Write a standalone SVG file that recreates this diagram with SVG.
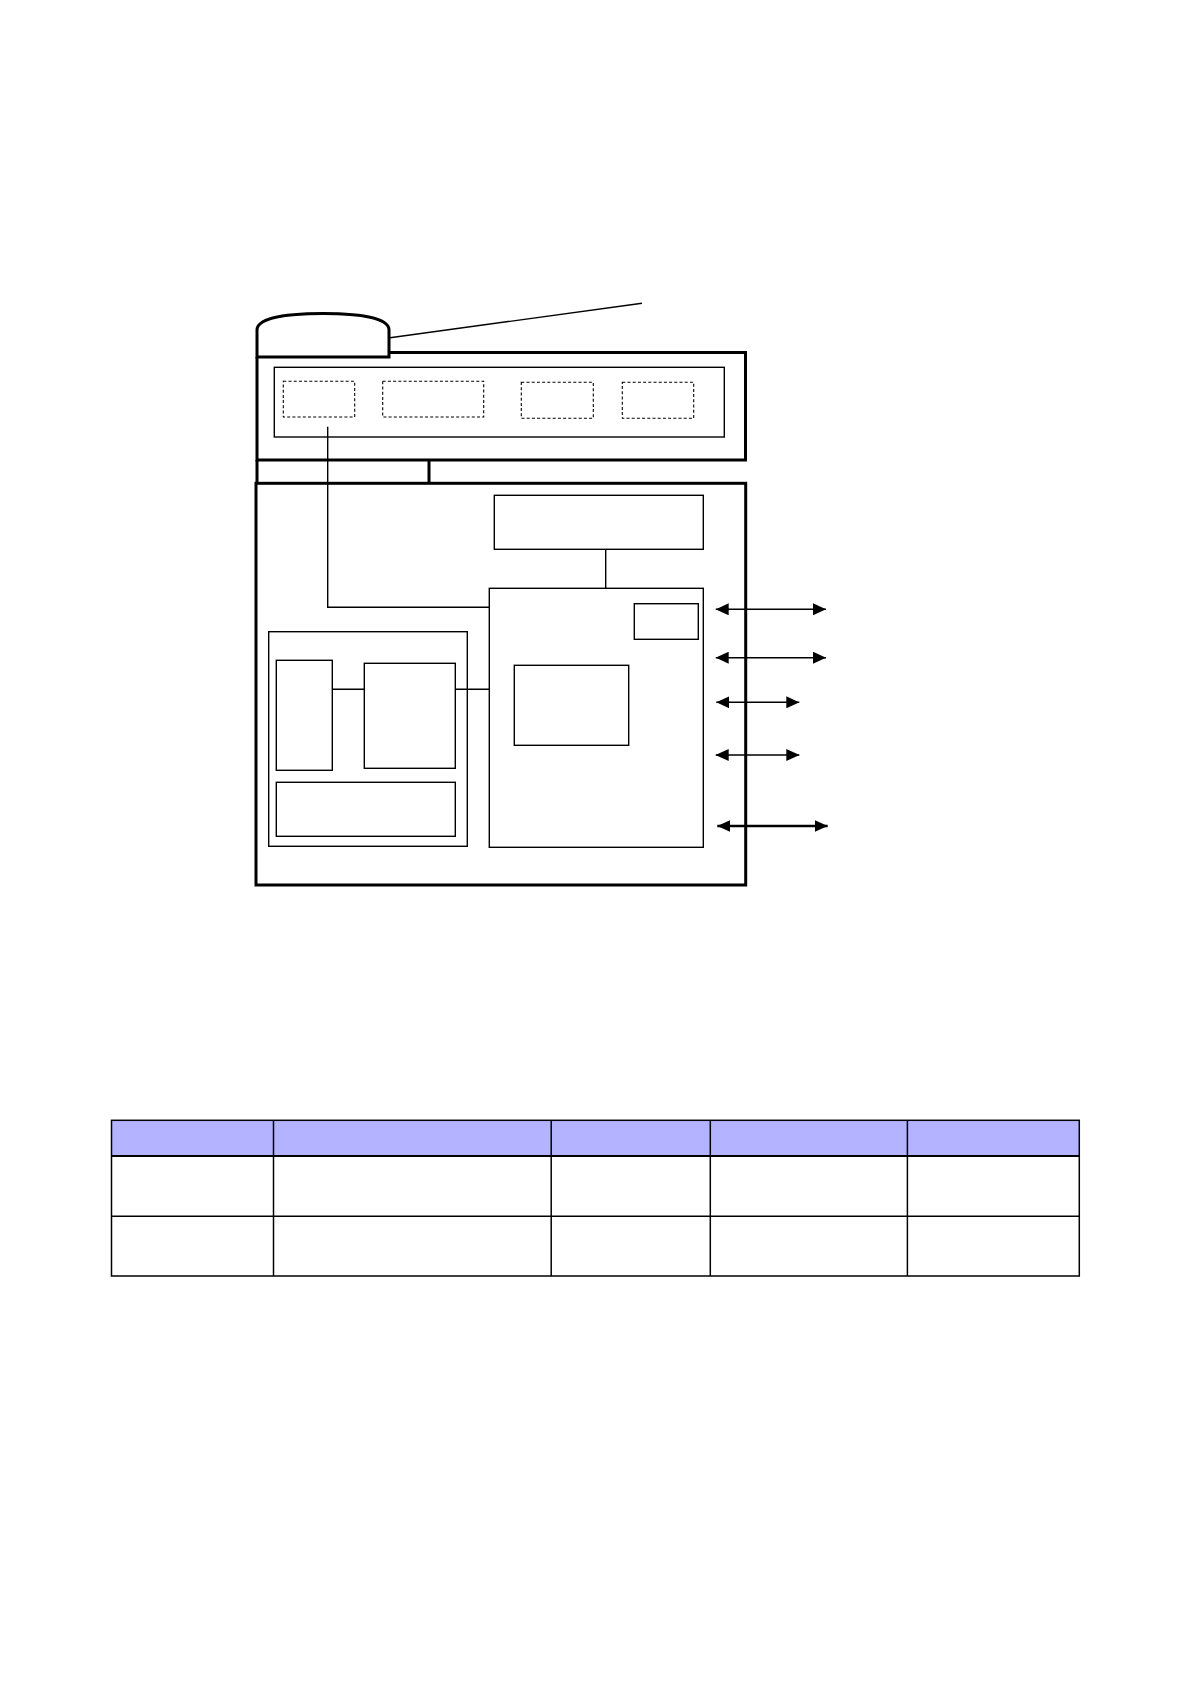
<svg xmlns="http://www.w3.org/2000/svg" width="1190" height="1684" viewBox="0 0 1190 1684">
<defs>
<style>
.thick{fill:none;stroke:#000;stroke-width:3}
.thin{fill:none;stroke:#000;stroke-width:1.4}
.dash{fill:none;stroke:#000;stroke-width:1.1;stroke-dasharray:3,2.2}
.conn{fill:none;stroke:#000;stroke-width:1.4}
.arr{fill:none;stroke:#000;stroke-width:1.4;marker-start:url(#ah);marker-end:url(#ah)}
.arrb{fill:none;stroke:#000;stroke-width:2.6;marker-start:url(#ah);marker-end:url(#ah)}
.hdr{fill:#B3B3FF;stroke:none}
.grid{fill:none;stroke:#000;stroke-width:1.5}
</style>
<marker id="ah" viewBox="0 0 13 12" refX="13" refY="6" markerWidth="13" markerHeight="12" markerUnits="userSpaceOnUse" orient="auto-start-reverse">
<path d="M0,0 L13,6 L0,12 Z" fill="#000"/>
</marker>
</defs>
<rect width="1190" height="1684" fill="#fff"/>

<g id="antenna">
<path class="thick" d="M257,357 V330 C257,318 285,313.5 323,313.5 C361,313.5 389,318 389,330 V357 Z" fill="#fff"/>
<line class="conn" x1="390" y1="337.7" x2="642" y2="303.3"/>
</g>

<g id="top-unit">
<path class="thick" d="M389,352.5 H745.5 V460 H257 V357"/>
<rect id="top-inner" class="thin" x="274.3" y="367.3" width="450" height="69.7"/>
<rect id="slot1" class="dash" x="283.3" y="381.3" width="71.4" height="35.7"/>
<rect id="slot2" class="dash" x="382.7" y="381.3" width="101" height="35.7"/>
<rect id="slot3" class="dash" x="521.3" y="382.3" width="72" height="36"/>
<rect id="slot4" class="dash" x="622.3" y="382.3" width="71.4" height="36"/>
</g>

<g id="hinge">
<path class="thick" d="M257,460 V483.3 M429,460 V483.3"/>
</g>

<g id="bottom-unit">
<rect class="thick" x="256" y="483.3" width="489.7" height="401.7"/>
</g>

<g id="box-top-right">
<rect class="thin" x="494.3" y="495.3" width="209" height="54"/>
</g>

<g id="box-main">
<rect class="thin" x="489.3" y="588.3" width="214" height="259"/>
</g>
<g id="box-small">
<rect class="thin" x="634.3" y="603.7" width="64" height="35.6"/>
</g>
<g id="box-mid">
<rect class="thin" x="514.3" y="665.3" width="114.4" height="80"/>
</g>

<g id="box-left-group">
<rect class="thin" x="268.7" y="631.7" width="198.6" height="214.6"/>
</g>
<g id="box-tall">
<rect class="thin" x="276.3" y="660.3" width="56" height="110"/>
</g>
<g id="box-left-mid">
<rect class="thin" x="364.3" y="663.3" width="91" height="105"/>
</g>
<g id="box-left-bottom">
<rect class="thin" x="276.3" y="782.3" width="179" height="54"/>
</g>

<g id="connectors">
<polyline class="conn" points="327.7,426.7 327.7,607.3 489.3,607.3"/>
<line class="conn" x1="605.7" y1="549.3" x2="605.7" y2="588.3"/>
<line class="conn" x1="332.3" y1="689.3" x2="364.3" y2="689.3"/>
<line class="conn" x1="455.3" y1="689.3" x2="489.3" y2="689.3"/>
<line class="arr" x1="715.7" y1="609.3" x2="826" y2="609.3"/>
<line class="arr" x1="715.7" y1="657.7" x2="826" y2="657.7"/>
<line class="arr" x1="716.3" y1="702.3" x2="799.3" y2="702.3"/>
<line class="arr" x1="715.7" y1="755" x2="799.3" y2="755"/>
<line class="arrb" x1="717.3" y1="826" x2="827.7" y2="826"/>
</g>

<g id="table">
<rect class="hdr" x="111.5" y="1120.3" width="967.8" height="35.7"/>
<rect class="grid" x="111.5" y="1120.3" width="967.8" height="155.7"/>
<line class="grid" x1="111.5" y1="1156" x2="1079.3" y2="1156" style="stroke-width:2"/>
<line class="grid" x1="111.5" y1="1216.3" x2="1079.3" y2="1216.3"/>
<line class="grid" x1="273.5" y1="1120.3" x2="273.5" y2="1276"/>
<line class="grid" x1="551.2" y1="1120.3" x2="551.2" y2="1276"/>
<line class="grid" x1="710.3" y1="1120.3" x2="710.3" y2="1276"/>
<line class="grid" x1="907.4" y1="1120.3" x2="907.4" y2="1276"/>
</g>
</svg>
